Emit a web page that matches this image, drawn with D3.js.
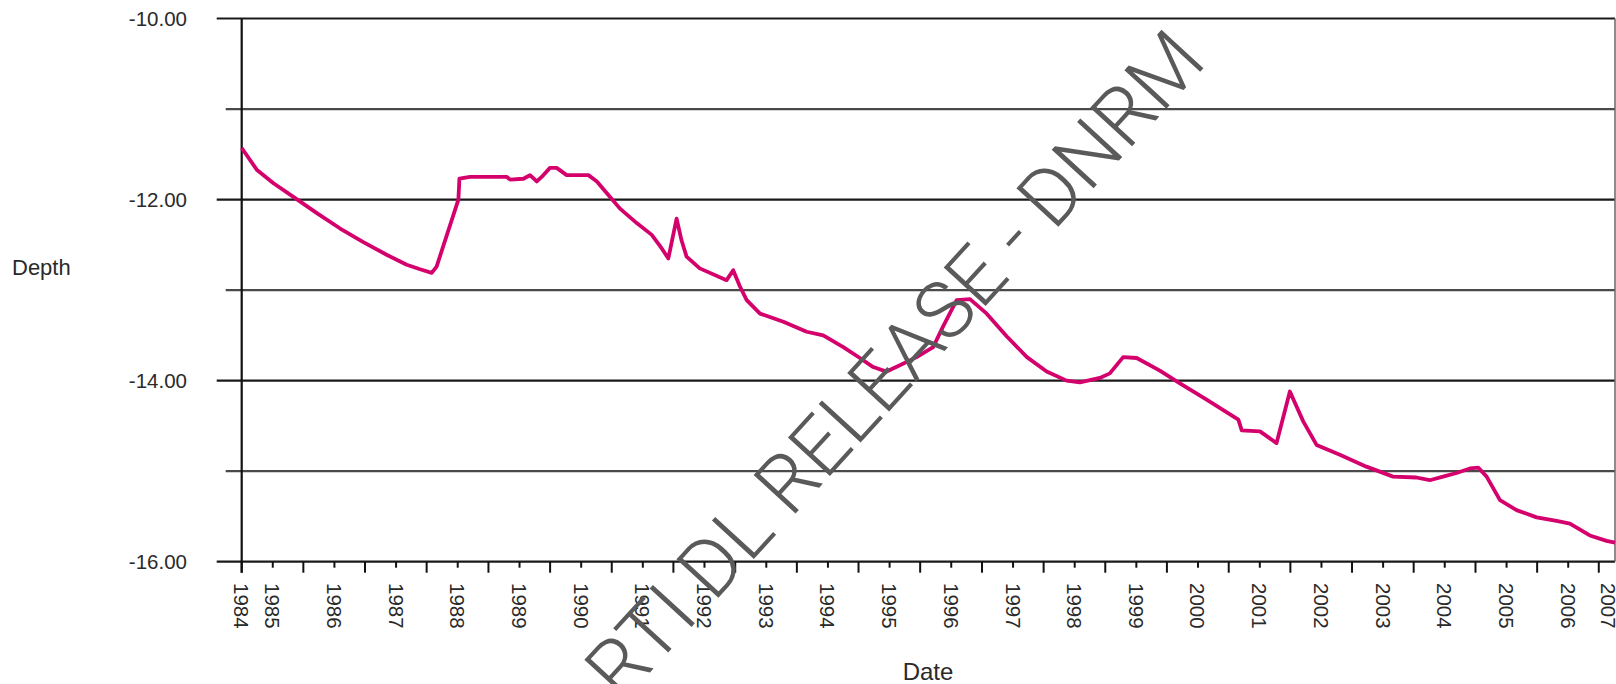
<!DOCTYPE html>
<html>
<head>
<meta charset="utf-8">
<script src="https://cdn.jsdelivr.net/npm/d3@7"></script>
<style>
  html, body { margin: 0; padding: 0; background: #fff; }
  svg { display: block; }
  text { font-family: "Liberation Sans", Arial, sans-serif; fill: #2a2a2a; }
</style>
</head>
<body>
<svg id="chart" width="1616" height="684"></svg>
<script>
// ---- data ----
const dates = [
  "1984-07-01","1984-09-28","1985-01-05","1985-05-03","1985-09-19","1986-02-04","1986-06-21","1986-11-06",
  "1987-03-05","1987-05-23","1987-07-31","1987-08-29","1988-01-05","1988-01-11","1988-03-14","1988-10-18",
  "1988-11-06","1989-01-24","1989-03-04","1989-04-13","1989-05-12","1989-06-30","1989-08-09","1989-10-07",
  "1990-02-13","1990-04-04","1990-06-02","1990-08-19","1990-11-26","1991-02-23","1991-04-23","1991-06-01",
  "1991-07-20","1991-08-18","1991-09-17","1991-12-04","1992-05-11","1992-06-19","1992-07-29","1992-09-07",
  "1992-11-25","1993-04-12","1993-08-28","1993-12-04","1994-04-02","1994-07-09","1994-09-26","1994-12-14",
  "1995-03-03","1995-06-10","1995-09-16","1995-11-14","1996-02-02","1996-04-21","1996-07-29","1996-11-24",
  "1997-03-24","1997-07-19","1997-11-14","1998-02-01","1998-05-30","1998-07-28","1998-10-15","1999-01-03",
  "1999-05-20","1999-09-16","2000-02-21","2000-08-27","2000-09-16","2001-01-02","2001-04-10","2001-06-28",
  "2001-09-15","2001-12-03","2002-04-20","2002-09-24","2003-03-01","2003-07-17","2003-10-04","2003-12-22",
  "2004-03-11","2004-05-29","2004-07-17","2004-09-05","2004-11-23","2005-03-01","2005-06-28","2005-10-24",
  "2006-01-11","2006-05-09","2006-08-16","2006-10-05"
];
const depths = [
  -11.43,-11.67,-11.82,-11.97,-12.15,-12.32,-12.47,-12.61,
  -12.72,-12.77,-12.81,-12.74,-12.00,-11.77,-11.75,-11.75,
  -11.78,-11.77,-11.73,-11.80,-11.75,-11.65,-11.65,-11.73,
  -11.73,-11.80,-11.93,-12.10,-12.26,-12.39,-12.54,-12.65,
  -12.21,-12.45,-12.63,-12.76,-12.89,-12.78,-12.96,-13.11,
  -13.26,-13.35,-13.46,-13.50,-13.63,-13.75,-13.85,-13.90,
  -13.83,-13.74,-13.63,-13.40,-13.11,-13.10,-13.26,-13.51,
  -13.74,-13.90,-14.00,-14.02,-13.97,-13.92,-13.74,-13.75,
  -13.89,-14.03,-14.21,-14.43,-14.55,-14.56,-14.69,-14.12,
  -14.45,-14.71,-14.82,-14.95,-15.06,-15.07,-15.10,-15.06,
  -15.02,-14.97,-14.96,-15.06,-15.32,-15.43,-15.51,-15.55,
  -15.58,-15.71,-15.77,-15.79
];
const xDomain = ["1984-07-01", "2006-10-05"];
const yTicks = [-10, -11, -12, -13, -14, -15, -16];
const yLabelTicks = [-10, -12, -14, -16];
const yearLabels = ["1984","1985","1986","1987","1988","1989","1990","1991","1992","1993","1994","1995",
  "1996","1997","1998","1999","2000","2001","2002","2003","2004","2005","2006","2007"];
const yTitle = "Depth";
const xTitle = "Date";
const watermark = "RTI DL RELEASE - DNRM";

// ---- layout ----
const parse = d3.timeParse("%Y-%m-%d");
const L = 241.7, R = 1615, T = 18.5, B = 561.7;
const svg = d3.select("#chart");

const x = d3.scaleTime().domain(xDomain.map(parse)).range([L, R]);
const y = d3.scaleLinear().domain([-10, -16]).range([T, B]);

// gridlines
svg.append("g").selectAll("line").data(yTicks).join("line")
  .attr("x1", d => yLabelTicks.includes(d) ? L - 25 : L - 16)
  .attr("x2", R)
  .attr("y1", d => y(d)).attr("y2", d => y(d))
  .attr("stroke", d => yLabelTicks.includes(d) ? "#1a1a1a" : "#4a4a4a")
  .attr("stroke-width", 2.2);

// right border
svg.append("line").attr("x1", R).attr("x2", R).attr("y1", T).attr("y2", B)
  .attr("stroke", "#666").attr("stroke-width", 1.5);

// y axis line
svg.append("line").attr("x1", L).attr("x2", L).attr("y1", T).attr("y2", B + 11)
  .attr("stroke", "#111").attr("stroke-width", 2.2);

// x ticks (half-year)
const halfYears = d3.timeMonth.every(6).range(x.domain()[0], x.domain()[1]);
svg.append("g").selectAll("line").data(halfYears).join("line")
  .attr("x1", d => x(d)).attr("x2", d => x(d))
  .attr("y1", B).attr("y2", d => d.getMonth() === 0 ? B + 6 : B + 11)
  .attr("stroke", "#111").attr("stroke-width", 2);

// y labels
svg.append("g").selectAll("text").data(yLabelTicks).join("text")
  .attr("x", 187).attr("y", d => y(d))
  .attr("text-anchor", "end").attr("dominant-baseline", "central")
  .style("font-size", "20.5px")
  .text(d => d.toFixed(2));

// x labels (rotated)
const labelPos = (lab, i) => {
  if (i === 0) return x.range()[0];
  if (i === yearLabels.length - 1) return x.range()[1] - 7;
  return x(new Date(+lab, 0, 1));
};
svg.append("g").selectAll("text").data(yearLabels).join("text")
  .attr("transform", (d, i) => `translate(${labelPos(d, i)},583) rotate(90)`)
  .attr("text-anchor", "start").attr("dominant-baseline", "central")
  .style("font-size", "20.5px")
  .text(d => d);

// axis titles
svg.append("text").attr("x", 12).attr("y", 267).attr("dominant-baseline", "central")
  .style("font-size", "22px").text(yTitle);
svg.append("text").attr("x", 928).attr("y", 671).attr("text-anchor", "middle")
  .attr("dominant-baseline", "central")
  .style("font-size", "24px").text(xTitle);

// data line
const data = dates.map((d, i) => ({ date: parse(d), v: depths[i] }));
svg.append("path").datum(data)
  .attr("fill", "none").attr("stroke", "#d4006c").attr("stroke-width", 3.8)
  .attr("stroke-linejoin", "round")
  .attr("d", d3.line().x(d => x(d.date)).y(d => y(d.v)));

// watermark
svg.append("text")
  .attr("transform", "translate(895,365) rotate(-47.5)")
  .attr("text-anchor", "middle").attr("dominant-baseline", "central")
  .style("font-family", "Roboto, 'Liberation Sans', sans-serif")
  .style("font-weight", "300")
  .style("font-size", "80px")
  .style("fill", "#5a5a5a")
  .text(watermark);
</script>
</body>
</html>
